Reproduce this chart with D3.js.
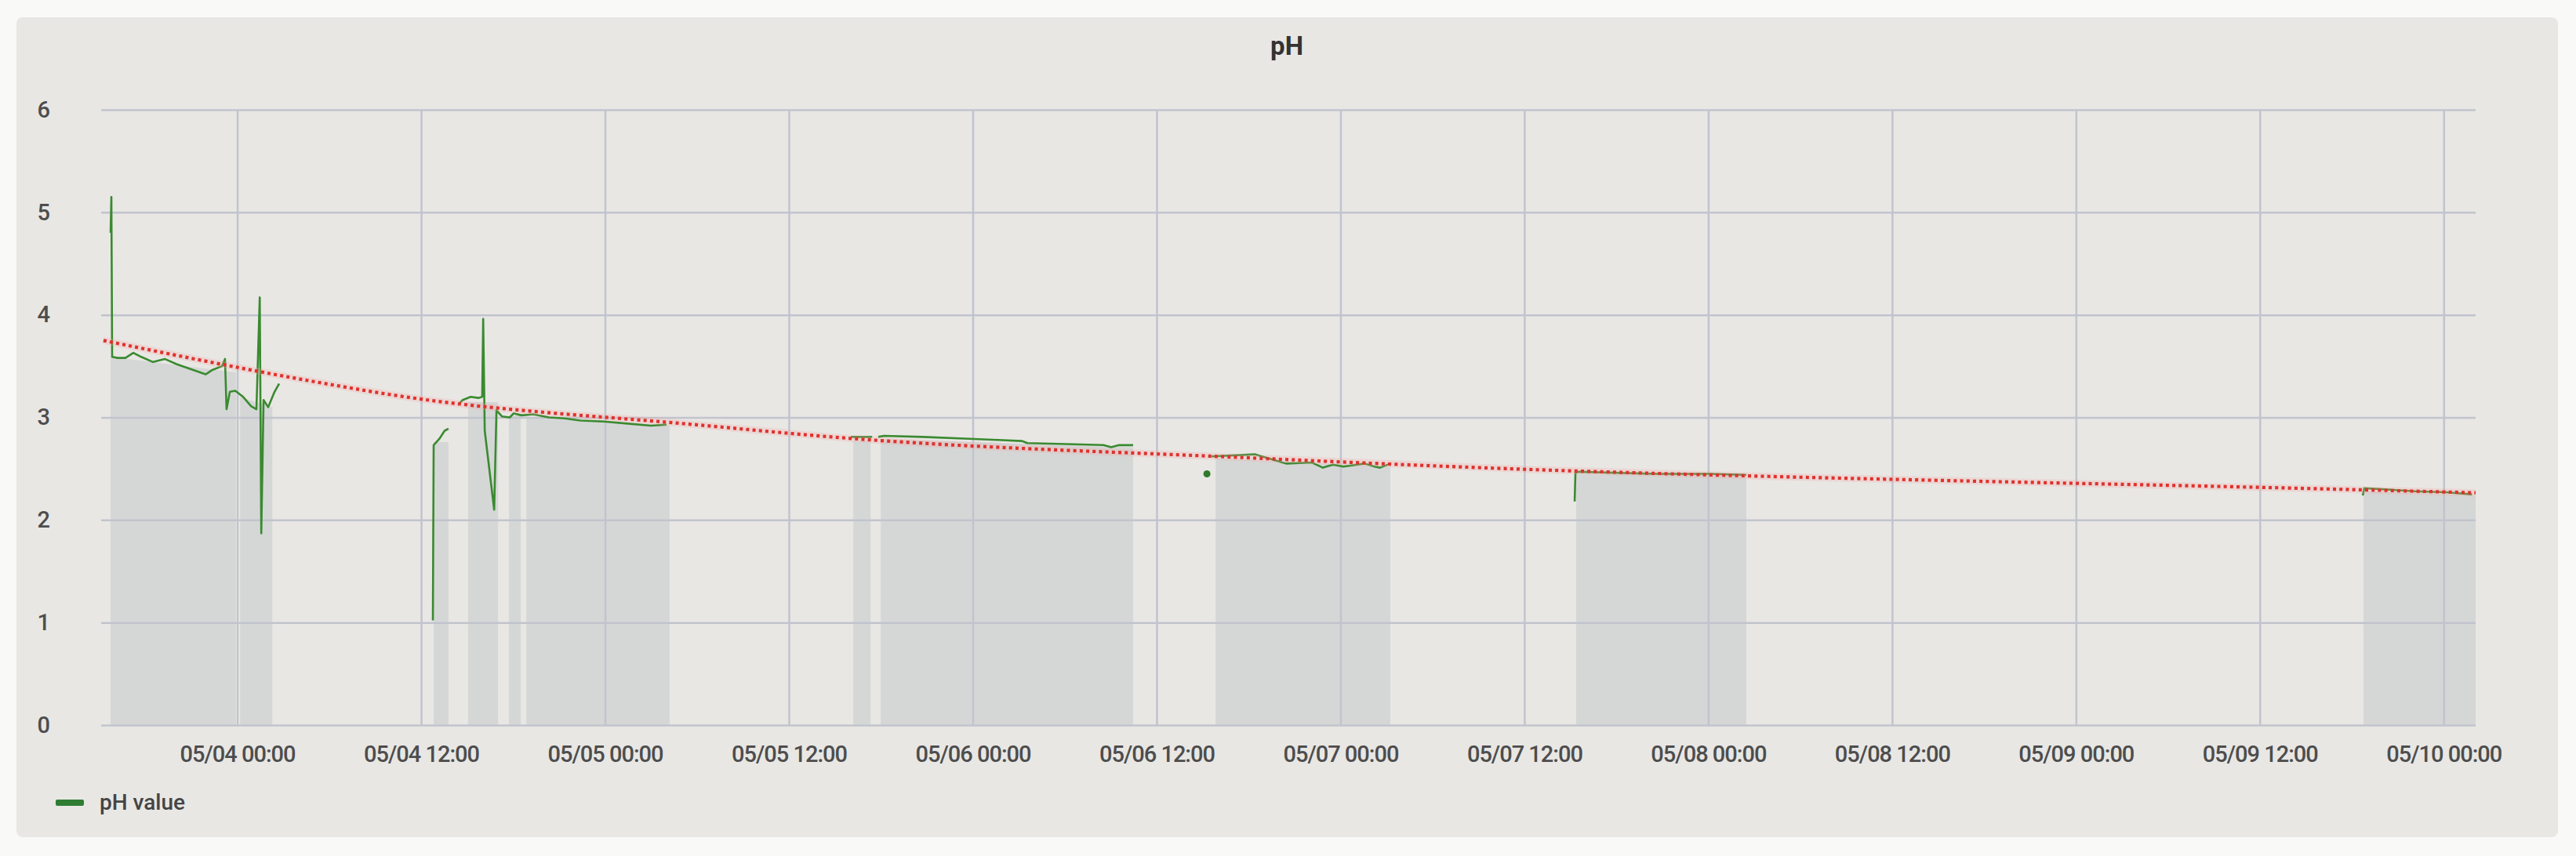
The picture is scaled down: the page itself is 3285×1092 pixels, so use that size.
<!DOCTYPE html>
<html>
<head>
<meta charset="utf-8">
<script src="https://cdn.jsdelivr.net/npm/d3@7"></script>
<style>
  body { margin: 0; background: #f9f9f8; }
  svg { display: block; }
  text { font-family: Roboto, "Noto Sans", sans-serif; }
</style>
</head>
<body>
<svg id="chart" width="3285" height="1092"></svg>
<script>
"use strict";

// pH readings, null = gap in the line
var phTimes = [
  "05/03 15:44","05/03 15:47","05/03 15:50","05/03 16:12","05/03 16:42","05/03 17:13","05/03 17:44",
  "05/03 18:30","05/03 19:16","05/03 20:02","05/03 20:48","05/03 21:34","05/03 21:56","05/03 22:20",
  "05/03 23:00","05/03 23:12","05/03 23:18","05/03 23:31","05/03 23:52","05/04 00:23","05/04 00:54",
  "05/04 01:15","05/04 01:28","05/04 01:34","05/04 01:43","05/04 02:01","05/04 02:26","05/04 02:44",
  "05/04 06:00",
  "05/04 12:46","05/04 12:49","05/04 13:11","05/04 13:32","05/04 13:47",
  "05/04 14:00",
  "05/04 14:27","05/04 14:43","05/04 15:14","05/04 15:44","05/04 15:59","05/04 16:03","05/04 16:09",
  "05/04 16:46","05/04 16:55","05/04 17:16","05/04 17:47","05/04 18:02","05/04 18:33","05/04 19:19",
  "05/04 20:21","05/04 21:22","05/04 22:24","05/04 23:56","05/05 01:28","05/05 03:00","05/05 04:01",
  "05/05 10:00",
  "05/05 16:03","05/05 17:26",
  "05/05 17:40",
  "05/05 17:50","05/05 18:12","05/05 20:45","05/06 00:05","05/06 01:40","05/06 03:12","05/06 03:34",
  "05/06 06:07","05/06 08:32","05/06 09:02","05/06 09:33","05/06 10:28",
  "05/06 13:00",
  "05/06 15:35","05/06 18:24","05/06 19:47","05/06 20:27","05/06 22:08","05/06 22:51","05/06 23:31",
  "05/07 00:11","05/07 01:34","05/07 02:14","05/07 02:35","05/07 03:15",
  "05/07 09:00",
  "05/07 15:17","05/07 15:20","05/07 15:32","05/07 20:39","05/08 00:05","05/08 02:29",
  "05/08 12:00",
  "05/09 18:43","05/09 18:49","05/09 22:07","05/10 00:10","05/10 01:51"
];
var phValues = [
  4.80,5.15,3.59,3.58,3.58,3.63,3.59,
  3.54,3.57,3.52,3.48,3.44,3.42,3.46,
  3.50,3.57,3.08,3.25,3.26,3.20,3.11,
  3.08,4.17,1.87,3.17,3.10,3.25,3.33,
  null,
  1.02,2.73,2.79,2.87,2.89,
  null,
  3.13,3.17,3.20,3.19,3.20,3.96,2.87,
  2.10,3.07,3.01,3.00,3.04,3.02,3.03,
  3.00,2.99,2.97,2.96,2.94,2.92,2.93,
  null,
  2.81,2.81,
  null,
  2.81,2.82,2.81,2.79,2.78,2.77,2.75,
  2.74,2.73,2.71,2.73,2.73,
  null,
  2.62,2.64,2.58,2.55,2.56,2.51,2.54,
  2.52,2.55,2.52,2.51,2.55,
  null,
  2.18,2.46,2.47,2.45,2.45,2.44,
  null,
  2.24,2.31,2.28,2.27,2.25
];

// lone reading drawn as a dot
var dotTimes = ["05/06 15:17"];
var dotValues = [2.45];

// grey background bands
var shadeStart = ["05/03 15:44","05/04 00:11","05/04 12:49","05/04 15:04","05/04 17:44",
                  "05/04 18:52","05/05 16:12","05/05 18:00","05/06 15:51","05/07 15:23","05/09 18:46"];
var shadeEnd   = ["05/03 23:55","05/04 02:17","05/04 13:47","05/04 17:01","05/04 18:30",
                  "05/05 04:13","05/05 17:20","05/06 10:28","05/07 03:15","05/08 02:29","05/10 02:05"];
var shadeTopStart = [3.59,3.20,2.76,3.15,3.02,3.00,2.77,2.79,2.60,2.45,2.28];
var shadeTopEnd   = [3.44,3.10,2.76,3.15,3.02,2.92,2.77,2.71,2.52,2.44,2.24];

// red dotted trend
var trendTimes = ["05/03 15:16","05/04 04:59","05/04 10:06","05/05 06:35","05/05 14:46","05/06 17:23",
                  "05/07 12:50","05/08 05:12","05/08 13:54","05/09 17:02","05/10 02:05"];
var trendValues = [3.75,3.35,3.22,2.92,2.81,2.61,2.49,2.42,2.39,2.30,2.265];

var xDomain = ["05/03 15:07","05/10 02:05"];
var xTickLabels = ["05/04 00:00","05/04 12:00","05/05 00:00","05/05 12:00","05/06 00:00","05/06 12:00",
                   "05/07 00:00","05/07 12:00","05/08 00:00","05/08 12:00","05/09 00:00","05/09 12:00","05/10 00:00"];
var yTicks = [0,1,2,3,4,5,6];

var parse = d3.timeParse("%m/%d %H:%M");
var fmt = d3.timeFormat("%m/%d %H:%M");

var plotLeft = 129, plotRight = 3157, plotTop = 140, plotBottom = 925;

var x = d3.scaleTime()
          .domain(xDomain.map(parse))
          .range([plotLeft, plotRight]);
var y = d3.scaleLinear()
          .domain([0, 6])
          .range([plotBottom, plotTop]);

var svg = d3.select("#chart");

// card
svg.append("rect")
   .attr("x", 21).attr("y", 22)
   .attr("width", 3241).attr("height", 1046)
   .attr("rx", 8)
   .attr("fill", "#e8e7e4");

svg.append("text")
   .attr("x", 1641).attr("y", 70)
   .attr("text-anchor", "middle")
   .attr("font-size", "33px")
   .attr("font-weight", "bold")
   .attr("fill", "#333")
   .text("pH");

// shaded bands
var shades = shadeStart.map(function(s, i) {
  return [
    { t: parse(s), v: shadeTopStart[i] },
    { t: parse(shadeEnd[i]), v: shadeTopEnd[i] }
  ];
});
var shadeArea = d3.area()
    .x(function(d) { return x(d.t); })
    .y0(y(0))
    .y1(function(d) { return y(d.v); });

svg.append("g").attr("class", "shades")
   .selectAll("path")
   .data(shades)
   .enter()
   .append("path")
   .attr("d", shadeArea)
   .attr("fill", "#d5d7d6");

// grid
var xTicks = xTickLabels.map(parse);

svg.append("g")
   .attr("class", "grid-x")
   .attr("transform", "translate(0," + plotBottom + ")")
   .call(d3.axisBottom(x).tickValues(xTicks).tickSize(-(plotBottom - plotTop)).tickFormat(""))
   .call(function(g) { g.select(".domain").remove(); })
   .selectAll("line")
   .attr("stroke", "#c1c4cd")
   .attr("stroke-width", 2.5);

svg.append("g")
   .attr("class", "grid-y")
   .attr("transform", "translate(" + plotLeft + ",0)")
   .call(d3.axisLeft(y).tickValues(yTicks).tickSize(-(plotRight - plotLeft)).tickFormat(""))
   .call(function(g) { g.select(".domain").remove(); })
   .selectAll("line")
   .attr("stroke", "#c1c4cd")
   .attr("stroke-width", 2.5);

// axis labels
var xAxis = svg.append("g")
   .attr("transform", "translate(0," + plotBottom + ")")
   .call(d3.axisBottom(x).tickValues(xTicks).tickSize(0).tickPadding(26).tickFormat(fmt));
xAxis.select(".domain").remove();
xAxis.selectAll("text")
   .attr("font-size", "29px")
   .attr("font-weight", 500)
   .attr("letter-spacing", "-1px")
   .attr("fill", "#4d4d4d")
   .attr("font-family", "Roboto, sans-serif");

var yAxis = svg.append("g")
   .attr("transform", "translate(" + plotLeft + ",0)")
   .call(d3.axisLeft(y).tickValues(yTicks).tickSize(0).tickPadding(65).tickFormat(d3.format("d")));
yAxis.select(".domain").remove();
yAxis.selectAll("text")
   .attr("font-size", "29px")
   .attr("font-weight", 500)
   .attr("fill", "#4d4d4d")
   .attr("font-family", "Roboto, sans-serif");

// pH line
var phData = phTimes.map(function(t, i) { return { t: parse(t), v: phValues[i] }; });
var line = d3.line()
    .defined(function(d) { return d.v != null; })
    .x(function(d) { return x(d.t); })
    .y(function(d) { return y(d.v); });

svg.append("path")
   .datum(phData)
   .attr("d", line)
   .attr("fill", "none")
   .attr("stroke", "#3a8a30")
   .attr("stroke-width", 2.6)
   .attr("stroke-linejoin", "round");

svg.selectAll("circle.dot")
   .data(dotTimes)
   .enter()
   .append("circle")
   .attr("class", "dot")
   .attr("cx", function(d) { return x(parse(d)); })
   .attr("cy", function(d, i) { return y(dotValues[i]); })
   .attr("r", 4.5)
   .attr("fill", "#2f7a2c");

// trend
var trendData = trendTimes.map(function(t, i) { return { t: parse(t), v: trendValues[i] }; });
var trendLine = d3.line()
    .curve(d3.curveMonotoneX)
    .x(function(d) { return x(d.t); })
    .y(function(d) { return y(d.v); });

svg.append("path")
   .datum(trendData)
   .attr("d", trendLine)
   .attr("fill", "none")
   .attr("stroke", "#f3a3a0")
   .attr("stroke-opacity", 0.25)
   .attr("stroke-width", 9);

svg.append("path")
   .datum(trendData)
   .attr("d", trendLine)
   .attr("fill", "none")
   .attr("stroke", "#e0312d")
   .attr("stroke-width", 4.2)
   .attr("stroke-dasharray", "4 4.2");

// legend
svg.append("rect")
   .attr("x", 71).attr("y", 1020)
   .attr("width", 36).attr("height", 8)
   .attr("rx", 2)
   .attr("fill", "#2e7d32");

svg.append("text")
   .attr("x", 127).attr("y", 1033)
   .attr("font-size", "28px")
   .attr("font-weight", 500)
   .attr("fill", "#444")
   .text("pH value");
</script>
</body>
</html>
